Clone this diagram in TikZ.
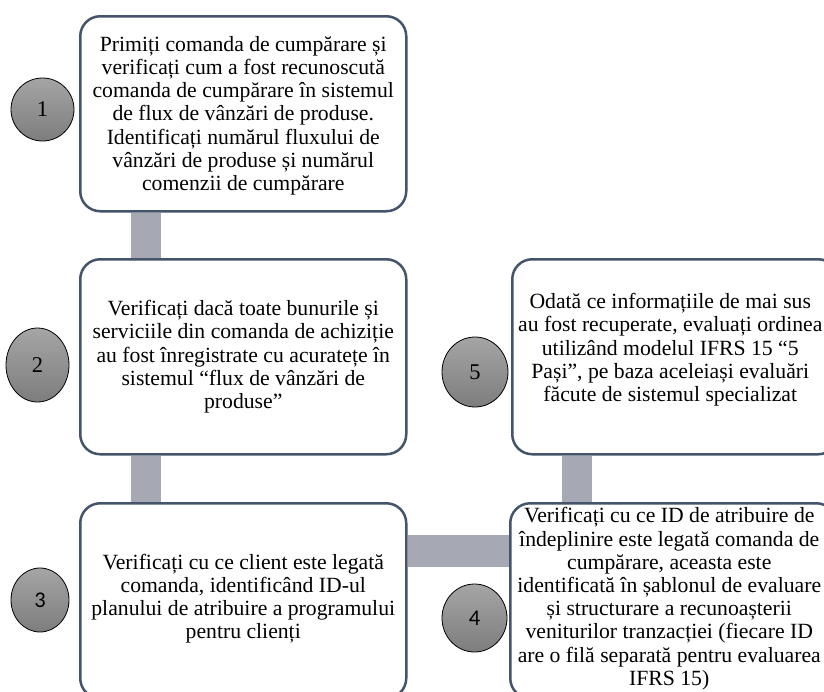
\documentclass[tikz,border=0pt]{standalone}
\usepackage{fontspec}
\setmainfont{Liberation Serif}
\newfontfamily\numsans{Carlito}
\usetikzlibrary{shapes.geometric,backgrounds}
\definecolor{frameslate}{RGB}{68,84,106}
\definecolor{linkgray}{RGB}{166,169,179}
\begin{document}
\begin{tikzpicture}[x=1pt,y=-1pt,
  stepbox/.style={draw=frameslate, line width=2.5pt, rounded corners=20pt,
    fill=white, minimum width=326pt, minimum height=195pt,
    anchor=north west, inner sep=0pt},
  steptext/.style={align=center, inner sep=0pt,
    font=\fontsize{21.7}{23.2}\selectfont},
  badge/.style={ellipse, draw=black, line width=0.8pt, inner sep=0pt,
    top color={rgb,255:red,165;green,165;blue,165},
    bottom color={rgb,255:red,125;green,125;blue,125},
    font=\fontsize{22.5}{22.5}\selectfont},
  linkbar/.style={draw=linkgray, line width=30pt}]
\useasboundingbox (0,0) rectangle (824,691);
\clip (0,0) rectangle (824,691);

% step boxes
\node[stepbox] (b1) at (79,15) {};
\node[stepbox] (b2) at (79,258) {};
\node[stepbox] (b3) at (79,502) {};
\node[stepbox] (b5) at (511,258) {};
\node[stepbox] (b4) at (509,502) {};

% box texts
\node[steptext] (t1) at ([yshift=-2pt]b1.center) {Primiți comanda de cumpărare și\\
  verificați cum a fost recunoscută\\ comanda de cumpărare în sistemul\\
  de flux de vânzări de produse.\\ Identificați numărul fluxului de\\
  vânzări de produse și numărul\\ comenzii de cumpărare};
\node[steptext] (t2) at (b2.center) {Verificați dacă toate bunurile și\\
  serviciile din comanda de achiziție\\ au fost înregistrate cu acuratețe în\\
  sistemul “flux de vânzări de\\ produse”};
\node[steptext] (t3) at ([yshift=2pt]b3.center) {Verificați cu ce client este legată\\
  comanda, identificând ID-ul\\ planului de atribuire a programului\\
  pentru clienți};
\node[steptext] (t5) at ([xshift=-5pt,yshift=7pt]b5.center) {Odată ce informațiile de mai sus\\
  au fost recuperate, evaluați ordinea\\ utilizând modelul IFRS 15 “5\\
  Pași”, pe baza aceleiași evaluări\\ făcute de sistemul specializat};
\node[steptext] (t4) at ([xshift=-4pt,yshift=2pt]b4.center) {Verificați cu ce ID de atribuire de\\
  îndeplinire este legată comanda de\\ cumpărare, aceasta este\\
  identificată în șablonul de evaluare\\ și structurare a recunoașterii\\
  veniturilor tranzacției (fiecare ID\\ are o filă separată pentru evaluarea\\
  IFRS 15)};

% numbered badges
\node[badge, minimum width=63pt, minimum height=63pt] (c1) at (42.5,109.5) {1};
\node[badge, minimum width=63pt, minimum height=74pt] (c2) at (37.5,365) {2};
\node[badge, minimum width=58pt, minimum height=64pt] (c3) at (40,600) {\numsans 3};
\node[badge, minimum width=65pt, minimum height=68pt] (c4) at (474.5,618) {\numsans 4};
\node[badge, minimum width=66pt, minimum height=70pt] (c5) at (475,372) {5};

% connecting bars behind the boxes
\begin{pgfonlayer}{background}
  \draw[linkbar] ([xshift=67pt]b1.south west) -- ([xshift=67pt]b2.north west);
  \draw[linkbar] ([xshift=67pt]b2.south west) -- ([xshift=67pt]b3.north west);
  \draw[linkbar, line width=32pt] ([yshift=-49pt]b3.north east) -- ([yshift=-49pt]b4.north west);
  \draw[linkbar] ([xshift=66pt]b5.south west) -- ([xshift=68pt]b4.north west);
\end{pgfonlayer}
\end{tikzpicture}
\end{document}
